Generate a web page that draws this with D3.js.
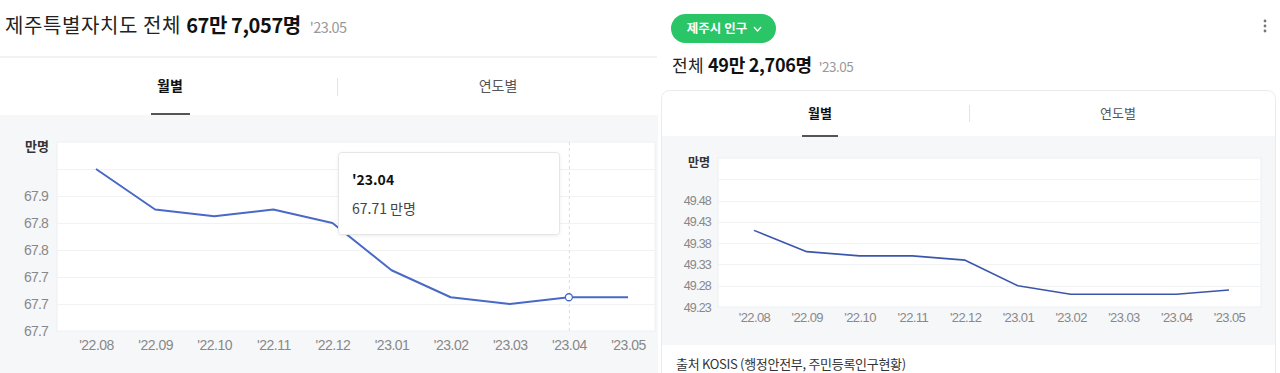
<!DOCTYPE html>
<html>
<head>
<meta charset="utf-8">
<script src="https://cdn.jsdelivr.net/npm/d3@7"></script>
<style>
  html, body { margin: 0; padding: 0; background: #fff; }
  svg { display: block; font-family: "Noto Sans CJK KR", "Noto Sans", sans-serif; }
</style>
</head>
<body>
<svg id="chart" width="1280" height="373"></svg>
<script>
// ---------- data ----------
const months = ["'22.08","'22.09","'22.10","'22.11","'22.12","'23.01","'23.02","'23.03","'23.04","'23.05"];
const provinceValues = [67.90, 67.84, 67.83, 67.84, 67.82, 67.75, 67.71, 67.70, 67.71, 67.71]; // 만명
const cityValues = [49.41, 49.36, 49.35, 49.35, 49.34, 49.28, 49.26, 49.26, 49.26, 49.27];     // 만명
const provinceTicks = [67.66, 67.70, 67.74, 67.78, 67.82, 67.86, 67.90];
const provinceTickLabels = ["67.7", "67.7", "67.7", "67.8", "67.8", "67.9", ""];
const cityTicks = [49.23, 49.28, 49.33, 49.38, 49.43, 49.48, 49.53];
const cityTickLabels = ["49.23", "49.28", "49.33", "49.38", "49.43", "49.48", ""];
const provinceDomain = [67.66, 67.94];
const cityDomain = [49.23, 49.58];
const tooltipMonth = "'23.04";
const tooltipValue = "67.71";

const svg = d3.select("#chart");

// ================= LEFT PANEL =================
const L = svg.append("g");

// title
const t1 = L.append("text").attr("x", 5).attr("y", 33).attr("font-size", 20).attr("fill", "#222");
t1.append("tspan").attr("letter-spacing", 0.6).text("제주특별자치도 전체 ");
t1.append("tspan").attr("font-weight", 700).attr("fill", "#111").attr("letter-spacing", -0.4).text("67만 7,057명");
t1.append("tspan").attr("font-size", 14.5).attr("fill", "#999").attr("dx", 9).attr("letter-spacing", -0.6).text("'23.05");

L.append("rect").attr("x", 0).attr("y", 56).attr("width", 657).attr("height", 2).attr("fill", "#f1f2f4");

// tabs
L.append("text").attr("x", 170).attr("y", 91).attr("text-anchor", "middle").attr("font-size", 14)
  .attr("font-weight", 700).attr("fill", "#111").text("월별");
L.append("text").attr("x", 498).attr("y", 91).attr("text-anchor", "middle").attr("font-size", 14)
  .attr("fill", "#555").text("연도별");
L.append("line").attr("x1", 337.5).attr("x2", 337.5).attr("y1", 78).attr("y2", 96).attr("stroke", "#e3e3e3");

// chart background
L.append("rect").attr("x", 0).attr("y", 115).attr("width", 658).attr("height", 258).attr("fill", "#f6f7f9");
L.append("rect").attr("x", 151).attr("y", 113).attr("width", 39).attr("height", 2).attr("fill", "#555");

const lx = d3.scalePoint().domain(months).range([96, 628]);
const ly = d3.scaleLinear().domain(provinceDomain).range([331, 142]);

L.append("rect").attr("x", 57).attr("y", 142).attr("width", 598).attr("height", 189)
  .attr("fill", "#fff").attr("stroke", "#eef0f3");

// grid
L.append("g").selectAll("line").data(provinceTicks.slice(1)).join("line")
  .attr("x1", 57).attr("x2", 655).attr("y1", d => Math.round(ly(d)) + 0.5).attr("y2", d => Math.round(ly(d)) + 0.5)
  .attr("stroke", "#f1f2f4");

// y axis labels
const lyAxis = d3.axisLeft(ly).tickValues(provinceTicks).tickSize(0).tickPadding(0)
  .tickFormat((d, i) => provinceTickLabels[i]);
const lyG = L.append("g").attr("transform", "translate(48,0)").call(lyAxis);
lyG.select(".domain").remove();
lyG.selectAll("text").attr("font-size", 14).attr("fill", "#888").attr("font-family", null).attr("letter-spacing", -0.8);

L.append("text").attr("x", 49).attr("y", 151).attr("text-anchor", "end").attr("font-size", 13)
  .attr("font-weight", 700).attr("fill", "#333").text("만명");

// x axis labels
const lxAxis = d3.axisBottom(lx).tickSize(0).tickPadding(0);
const lxG = L.append("g").attr("transform", "translate(0,340)").call(lxAxis);
lxG.select(".domain").remove();
lxG.selectAll("text").attr("font-size", 14).attr("fill", "#888").attr("font-family", null).attr("letter-spacing", -0.5);

// hover guide
L.append("line").attr("x1", lx(tooltipMonth) + 0.5).attr("x2", lx(tooltipMonth) + 0.5).attr("y1", 142).attr("y2", 331)
  .attr("stroke", "#ddd").attr("stroke-dasharray", "3,3");

// line
const lline = d3.line().x((d, i) => lx(months[i])).y(d => ly(d));
L.append("path").datum(provinceValues).attr("d", lline).attr("fill", "none")
  .attr("stroke", "#4a69c6").attr("stroke-width", 2).attr("stroke-linejoin", "round");

const ti = months.indexOf(tooltipMonth);
L.append("circle").attr("cx", lx(tooltipMonth)).attr("cy", ly(provinceValues[ti])).attr("r", 3.5)
  .attr("fill", "#fff").attr("stroke", "#4a69c6").attr("stroke-width", 1.3);

// tooltip
const defs = svg.append("defs");
const f = defs.append("filter").attr("id", "sh").attr("x", "-10%").attr("y", "-10%").attr("width", "120%").attr("height", "130%");
f.append("feDropShadow").attr("dx", 0).attr("dy", 1).attr("stdDeviation", 1.5).attr("flood-color", "#000").attr("flood-opacity", 0.08);
L.append("rect").attr("x", 338.5).attr("y", 152.5).attr("width", 221).attr("height", 82).attr("rx", 3)
  .attr("fill", "#fff").attr("stroke", "#e6e6e6").attr("filter", "url(#sh)");
L.append("text").attr("x", 352).attr("y", 185).attr("font-size", 14).attr("font-weight", 700).attr("fill", "#111")
  .text(tooltipMonth);
L.append("text").attr("x", 352).attr("y", 214).attr("font-size", 14).attr("fill", "#444")
  .text(tooltipValue + " 만명");

// ================= RIGHT PANEL =================
const R = svg.append("g");

// pill
R.append("rect").attr("x", 671).attr("y", 14).attr("width", 105).attr("height", 29).attr("rx", 14.5).attr("fill", "#2ac566");
R.append("text").attr("x", 717).attr("y", 33).attr("text-anchor", "middle").attr("font-size", 12.5).attr("font-weight", 700)
  .attr("fill", "#fff").text("제주시 인구");
R.append("path").attr("d", "M754,27 L757.5,31 L761,27").attr("fill", "none").attr("stroke", "#fff").attr("stroke-width", 1.3);

// kebab
R.append("g").selectAll("circle").data([21, 26, 31]).join("circle")
  .attr("cx", 1265).attr("cy", d => d).attr("r", 1.4).attr("fill", "#777");

// title
const t2 = R.append("text").attr("x", 672).attr("y", 72).attr("font-size", 17).attr("fill", "#222");
t2.append("tspan").attr("letter-spacing", 0.3).text("전체 ");
t2.append("tspan").attr("font-weight", 700).attr("fill", "#111").attr("font-size", 18).attr("letter-spacing", -0.3).text("49만 2,706명");
t2.append("tspan").attr("font-size", 13.5).attr("fill", "#999").attr("dx", 7).attr("letter-spacing", -0.5).text("'23.05");

// card
R.append("rect").attr("x", 661.5).attr("y", 90.5).attr("width", 614).attr("height", 320).attr("rx", 8)
  .attr("fill", "#fff").attr("stroke", "#ebebeb");

R.append("text").attr("x", 820).attr("y", 118).attr("text-anchor", "middle").attr("font-size", 13)
  .attr("font-weight", 700).attr("fill", "#111").text("월별");
R.append("text").attr("x", 1118).attr("y", 118).attr("text-anchor", "middle").attr("font-size", 13)
  .attr("fill", "#555").text("연도별");
R.append("line").attr("x1", 969.5).attr("x2", 969.5).attr("y1", 105).attr("y2", 122).attr("stroke", "#e3e3e3");

R.append("rect").attr("x", 662).attr("y", 136).attr("width", 613).attr("height", 209).attr("fill", "#f6f7f9");
R.append("rect").attr("x", 802).attr("y", 135).attr("width", 36).attr("height", 2).attr("fill", "#555");

const rx = d3.scalePoint().domain(months).range([754, 1229]);
const ry = d3.scaleLinear().domain(cityDomain).range([307, 158]);

R.append("rect").attr("x", 718).attr("y", 158).attr("width", 543).attr("height", 149)
  .attr("fill", "#fff").attr("stroke", "#eef0f3");

R.append("g").selectAll("line").data(cityTicks.slice(1)).join("line")
  .attr("x1", 718).attr("x2", 1261).attr("y1", d => Math.round(ry(d)) + 0.5).attr("y2", d => Math.round(ry(d)) + 0.5)
  .attr("stroke", "#f1f2f4");

const ryAxis = d3.axisLeft(ry).tickValues(cityTicks).tickSize(0).tickPadding(0)
  .tickFormat((d, i) => cityTickLabels[i]);
const ryG = R.append("g").attr("transform", "translate(711,0)").call(ryAxis);
ryG.select(".domain").remove();
ryG.selectAll("text").attr("font-size", 12.5).attr("fill", "#888").attr("font-family", null).attr("letter-spacing", -0.8);

R.append("text").attr("x", 710).attr("y", 167).attr("text-anchor", "end").attr("font-size", 12)
  .attr("font-weight", 700).attr("fill", "#333").text("만명");

const rxAxis = d3.axisBottom(rx).tickSize(0).tickPadding(0);
const rxG = R.append("g").attr("transform", "translate(0,313)").call(rxAxis);
rxG.select(".domain").remove();
rxG.selectAll("text").attr("font-size", 13).attr("fill", "#888").attr("font-family", null).attr("letter-spacing", -0.6);

const rline = d3.line().x((d, i) => rx(months[i])).y(d => ry(d));
R.append("path").datum(cityValues).attr("d", rline).attr("fill", "none")
  .attr("stroke", "#3a56ac").attr("stroke-width", 1.6).attr("stroke-linejoin", "round");

R.append("text").attr("x", 676).attr("y", 369).attr("font-size", 13).attr("fill", "#333").attr("letter-spacing", -0.3)
  .text("출처 KOSIS (행정안전부, 주민등록인구현황)");
</script>
</body>
</html>
